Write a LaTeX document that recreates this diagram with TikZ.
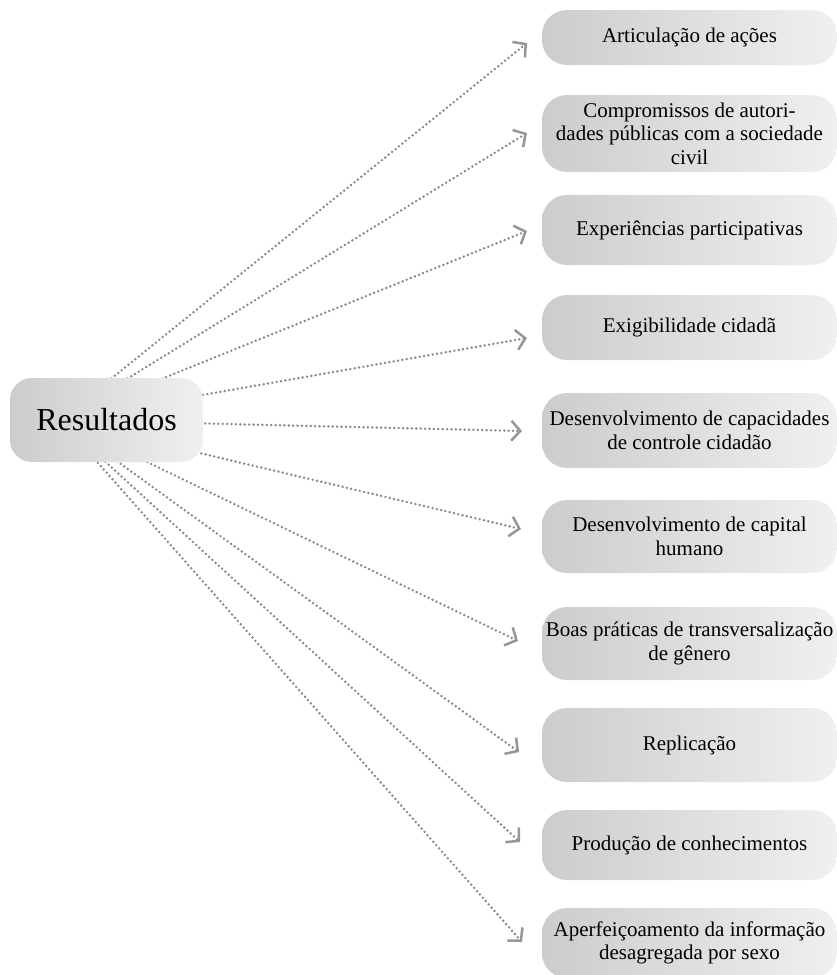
\documentclass[tikz,border=0pt]{standalone}
\usepackage{fontspec}
\setmainfont{Liberation Serif}
\usetikzlibrary{arrows.meta,backgrounds}
\definecolor{boxL}{RGB}{204,204,204}
\definecolor{boxR}{RGB}{239,240,240}
\definecolor{lineg}{RGB}{150,150,150}
\definecolor{dotg}{RGB}{135,135,135}
\tikzset{
  res/.style={rounded corners=22pt, left color=boxL, right color=boxR, draw=none,
    minimum width=193pt, minimum height=84pt, inner sep=0pt,
    font=\fontsize{32}{36}\selectfont},
  item/.style={rounded corners=25pt, left color=boxL, right color=boxR, draw=none,
    minimum width=295pt, align=center, inner sep=2pt,
    font=\fontsize{21}{23.5}\selectfont},
  conn/.style={draw=dotg, line width=2.7pt, line cap=round, dash pattern=on 0pt off 4.4pt,
    -{Straight Barb[length=9pt,width=20pt,line width=2.5pt,line cap=butt,color=lineg]}}
}
\begin{document}
\begin{tikzpicture}[x=1pt,y=-1pt]
\useasboundingbox (0,0) rectangle (837,975);
\node[res] (res) at (106.5,420) {Resultados};
\coordinate (hub) at (60,420);
\node[item, minimum height=55pt] (b1) at (689.5,37.5) {Articulação de ações};
\node[item, minimum height=77pt] (b2) at (689.5,133.5) {Compromissos de autori-\\dades públicas com a sociedade\\civil};
\node[item, minimum height=70pt] (b3) at (689.5,230) {Experiências participativas};
\node[item, minimum height=65pt] (b4) at (689.5,327.5) {Exigibilidade cidadã};
\node[item, minimum height=75pt] (b5) at (689.5,430.5) {Desenvolvimento de capacidades\\de controle cidadão};
\node[item, minimum height=73pt] (b6) at (689.5,536.5) {Desenvolvimento de capital\\humano};
\node[item, minimum height=73pt] (b7) at (689.5,643.5) {Boas práticas de transversalização\\de gênero};
\node[item, minimum height=74pt] (b8) at (689.5,745) {Replicação};
\node[item, minimum height=70pt] (b9) at (689.5,845) {Produção de conhecimentos};
\node[item, minimum height=70pt] (b10) at (689.5,943) {Aperfeiçoamento da informação\\desagregada por sexo};
\coordinate (t1) at (527,43);
\coordinate (t2) at (527,133);
\coordinate (t3) at (527,231);
\coordinate (t4) at (527,338);
\coordinate (t5) at (522,431);
\coordinate (t6) at (521,529);
\coordinate (t7) at (518,641);
\coordinate (t8) at (519,752);
\coordinate (t9) at (520,842);
\coordinate (t10) at (522,942);
\begin{scope}[on background layer]
\foreach \i in {1,...,10} \draw[conn] (hub) -- (t\i);
\end{scope}
\end{tikzpicture}
\end{document}
